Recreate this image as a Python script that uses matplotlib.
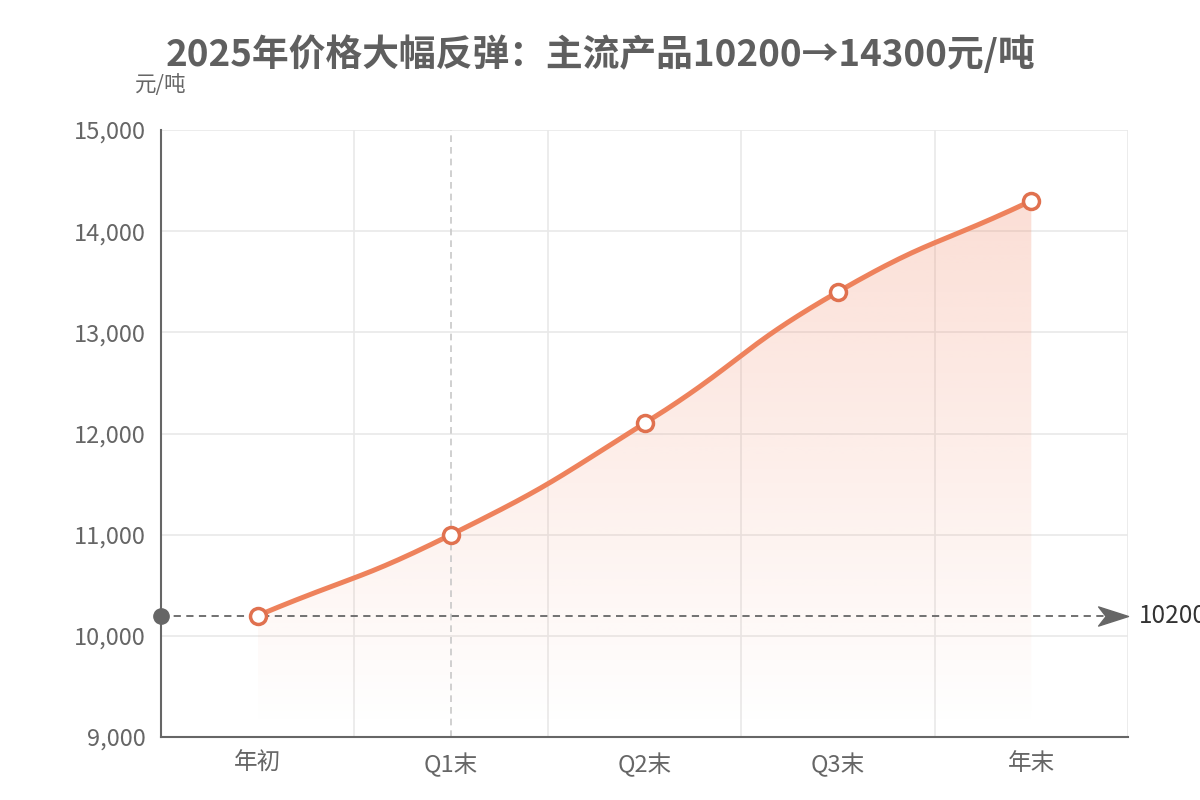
import matplotlib.pyplot as plt
import numpy as np
from matplotlib.path import Path
from matplotlib.patches import PathPatch

plt.rcParams['font.family'] = ['Noto Sans CJK SC', 'DejaVu Sans']

# 数据
categories = ['年初', 'Q1末', 'Q2末', 'Q3末', '年末']
prices = [10200, 11000, 12100, 13400, 14300]
ref_value = 10200
y_ticks = [9000, 10000, 11000, 12000, 13000, 14000, 15000]

line_color = '#EE825C'
edge_color = '#E0714F'
axis_color = '#666666'
grid_color = '#E9E9E9'

fig = plt.figure(figsize=(12, 8), dpi=100)
ax = fig.add_axes([161 / 1200, 63 / 800, 967 / 1200, 607 / 800])
n = len(categories)
ax.set_xlim(-0.5, n - 0.5)
ax.set_ylim(9000, 15000)


# echarts 风格的平滑曲线 (smooth=0.5)，在像素坐标中计算
def smooth_curve(xs, ys, smooth=0.5, steps=40):
    pts = ax.transData.transform(np.column_stack([xs, ys]))
    m = len(pts)
    cps = []
    for i in range(m):
        p = pts[i]
        prev = pts[i - 1] if i > 0 else p
        nxt = pts[i + 1] if i < m - 1 else p
        v = nxt - prev
        d1 = np.hypot(*(p - prev))
        d2 = np.hypot(*(nxt - p))
        r = d2 / (d1 + d2) if d1 + d2 > 0 else 0.5
        cps.append((p - v * smooth * (1 - r), p + v * smooth * r))
    t = np.linspace(0, 1, steps).reshape(-1, 1)
    out = [pts[:1]]
    for i in range(m - 1):
        p0, p1, p2, p3 = pts[i], cps[i][1], cps[i + 1][0], pts[i + 1]
        seg = ((1 - t) ** 3 * p0 + 3 * (1 - t) ** 2 * t * p1
               + 3 * (1 - t) * t ** 2 * p2 + t ** 3 * p3)
        out.append(seg[1:])
    return ax.transData.inverted().transform(np.vstack(out))


xs = np.arange(n)
dense = smooth_curve(xs, prices)

# 渐变面积
area = np.vstack([dense, [[xs[-1], 9000], [xs[0], 9000]]])
clip = PathPatch(Path(area), facecolor='none', edgecolor='none')
ax.add_patch(clip)
grad = np.linspace(0.0, 1.0, 256).reshape(-1, 1)
rgba = np.zeros((256, 1, 4))
rgba[..., 0] = 0xF2 / 255
rgba[..., 1] = 0x8A / 255
rgba[..., 2] = 0x6A / 255
rgba[..., 3] = (grad * 0.28)
img = ax.imshow(rgba, extent=[xs[0], xs[-1], 9100, max(prices)], origin='lower',
                aspect='auto', zorder=1, interpolation='bilinear')
img.set_clip_path(clip)

ax.plot(dense[:, 0], dense[:, 1], color=line_color, lw=3.6, zorder=4,
        solid_capstyle='round')
ax.plot(xs, prices, 'o', ms=11.5, mfc='white', mec=edge_color, mew=2.5, zorder=5)

# 网格
ax.set_yticks(y_ticks)
ax.set_yticklabels([f'{v:,}' for v in y_ticks])
for v in y_ticks[1:]:
    ax.axhline(v, color=grid_color, lw=1.2, zorder=0)
for b in np.arange(0.5, n, 1.0):
    ax.axvline(b, color=grid_color, lw=1.2, zorder=0)

# Q1末 指示线
ax.axvline(1, color='#C8C8C8', lw=1.2, ls=(0, (4, 3)), zorder=2)

# 标线 10200
ax.plot([-0.5, n - 0.62], [ref_value, ref_value], color='#666666', lw=1.3,
        ls=(0, (4, 3)), zorder=3, clip_on=False)
ax.plot([-0.5], [ref_value], 'o', color='#666666', ms=11, zorder=6, clip_on=False)
arrow = Path([(0, 0), (-1, 0.32), (-0.75, 0), (-1, -0.32), (0, 0)],
             [Path.MOVETO, Path.LINETO, Path.LINETO, Path.LINETO, Path.CLOSEPOLY])
ax.plot([n - 0.5], [ref_value], marker=arrow, color='#666666', ms=43, zorder=6,
        clip_on=False)
ax.annotate(str(ref_value), xy=(n - 0.5, ref_value), xytext=(8, 0),
            textcoords='offset points', va='center', ha='left', fontsize=17.5,
            color='#333333', annotation_clip=False)

ax.set_xticks(xs)
ax.set_xticklabels(categories)
ax.tick_params(length=0, labelsize=17, colors='#666666')
ax.tick_params(axis='x', pad=11)
ax.tick_params(axis='y', pad=11)

for s in ['top', 'right']:
    ax.spines[s].set_visible(False)
for s in ['left', 'bottom']:
    ax.spines[s].set_color(axis_color)
    ax.spines[s].set_linewidth(1.5)

fig.text(161 / 1200, 1 - 85 / 800, '元/吨', ha='center', va='center',
         fontsize=15.5, color='#666666')
fig.text(0.5, 1 - 55 / 800, '2025年价格大幅反弹：主流产品10200→14300元/吨',
         ha='center', va='center', fontsize=26.5, fontweight='bold', color='#5F5F5F')

fig.savefig('out.png', dpi=100)
